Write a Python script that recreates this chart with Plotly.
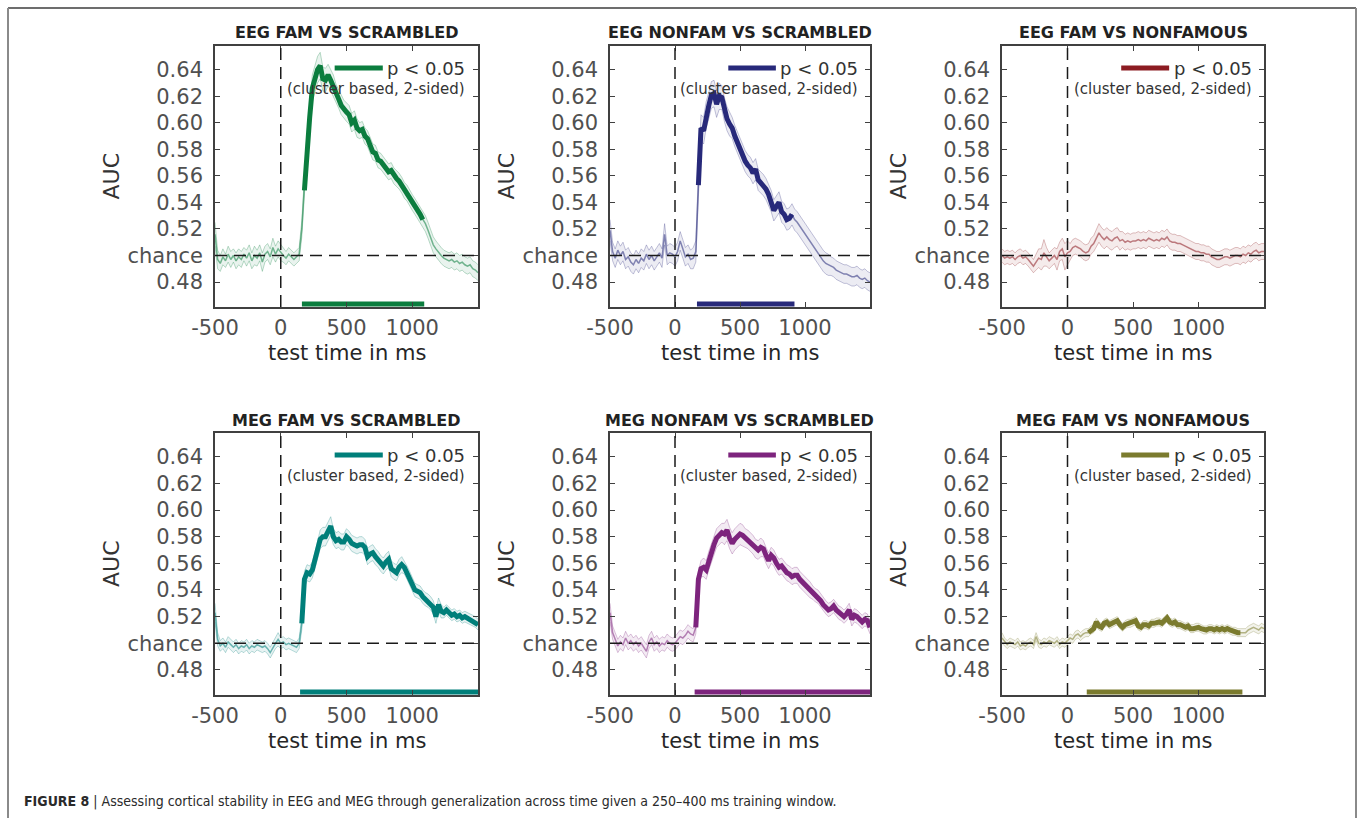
import plotly.graph_objects as go

W, H = 1358, 818

# ---------------------------------------------------------------- data
TIME_MS = list(range(-500, 1501, 20))

PANEL_TITLES = [
    "EEG FAM VS SCRAMBLED", "EEG NONFAM VS SCRAMBLED", "EEG FAM VS NONFAMOUS",
    "MEG FAM VS SCRAMBLED", "MEG NONFAM VS SCRAMBLED", "MEG FAM VS NONFAMOUS",
]

EEG_FAM_SCR = [
    0.516, 0.497, 0.494, 0.499, 0.496, 0.501, 0.497, 0.500, 0.496, 0.499,
    0.497, 0.501, 0.498, 0.502, 0.496, 0.500, 0.498, 0.502, 0.495, 0.501,
    0.503, 0.499, 0.506, 0.501, 0.505, 0.502, 0.500, 0.498, 0.501, 0.499,
    0.497, 0.499, 0.501, 0.520, 0.549, 0.585, 0.604, 0.626, 0.633, 0.640,
    0.643, 0.633, 0.632, 0.636, 0.632, 0.628, 0.622, 0.618, 0.613, 0.610,
    0.608, 0.606, 0.600, 0.602, 0.596, 0.594, 0.595, 0.590, 0.588, 0.583,
    0.578, 0.577, 0.572, 0.571, 0.568, 0.565, 0.563, 0.564, 0.560, 0.558,
    0.556, 0.553, 0.549, 0.547, 0.543, 0.540, 0.537, 0.534, 0.531, 0.527,
    0.524, 0.519, 0.514, 0.508, 0.505, 0.502, 0.500, 0.498, 0.497, 0.496,
    0.497, 0.495, 0.496, 0.494, 0.495, 0.493, 0.492, 0.493, 0.490, 0.489,
    0.487,
]
EEG_FAM_SCR_SEM = [
    0.009, 0.007, 0.006, 0.006, 0.005, 0.006, 0.006, 0.005, 0.006, 0.006,
    0.006, 0.005, 0.006, 0.006, 0.006, 0.007, 0.006, 0.006, 0.007, 0.006,
    0.006, 0.006, 0.007, 0.006, 0.006, 0.006, 0.005, 0.005, 0.005, 0.005,
    0.005, 0.005, 0.005, 0.006, 0.007, 0.008, 0.009, 0.010, 0.010, 0.010,
    0.010, 0.009, 0.009, 0.008, 0.008, 0.008, 0.007, 0.007, 0.007, 0.007,
    0.007, 0.007, 0.007, 0.007, 0.007, 0.006, 0.006, 0.006, 0.006, 0.006,
    0.006, 0.006, 0.006, 0.006, 0.006, 0.006, 0.006, 0.006, 0.006, 0.006,
    0.006, 0.006, 0.006, 0.006, 0.006, 0.006, 0.006, 0.006, 0.006, 0.006,
    0.006, 0.006, 0.006, 0.006, 0.006, 0.006, 0.006, 0.006, 0.006, 0.006,
    0.006, 0.006, 0.006, 0.006, 0.006, 0.006, 0.006, 0.006, 0.006, 0.006,
    0.006,
]

EEG_NONFAM_SCR = [
    0.519, 0.503, 0.498, 0.504, 0.500, 0.503, 0.497, 0.499, 0.495, 0.493,
    0.497, 0.494, 0.498, 0.496, 0.501, 0.497, 0.500, 0.496, 0.499, 0.502,
    0.498, 0.516, 0.500, 0.502, 0.501, 0.499, 0.503, 0.511, 0.505, 0.499,
    0.501, 0.497, 0.498, 0.503, 0.553, 0.596, 0.594, 0.606, 0.613, 0.621,
    0.622, 0.614, 0.620, 0.619, 0.610, 0.603, 0.599, 0.596, 0.590, 0.585,
    0.581, 0.575, 0.571, 0.568, 0.566, 0.562, 0.565, 0.557, 0.555, 0.553,
    0.550, 0.546, 0.541, 0.534, 0.537, 0.540, 0.533, 0.531, 0.527, 0.528,
    0.531, 0.527, 0.525, 0.522, 0.520, 0.517, 0.514, 0.511, 0.508, 0.504,
    0.502, 0.499, 0.496, 0.494, 0.493, 0.492, 0.491, 0.489, 0.488, 0.487,
    0.486, 0.486, 0.485, 0.484, 0.484, 0.485, 0.483, 0.482, 0.483, 0.481,
    0.480,
]
EEG_NONFAM_SCR_SEM = [
    0.008, 0.007, 0.007, 0.007, 0.007, 0.007, 0.007, 0.007, 0.007, 0.007,
    0.007, 0.007, 0.007, 0.007, 0.007, 0.007, 0.007, 0.007, 0.007, 0.007,
    0.007, 0.008, 0.007, 0.007, 0.007, 0.007, 0.007, 0.007, 0.007, 0.007,
    0.007, 0.007, 0.008, 0.008, 0.009, 0.010, 0.010, 0.010, 0.010, 0.010,
    0.010, 0.010, 0.010, 0.009, 0.009, 0.009, 0.009, 0.008, 0.008, 0.008,
    0.008, 0.008, 0.008, 0.008, 0.008, 0.008, 0.008, 0.008, 0.008, 0.008,
    0.008, 0.008, 0.008, 0.008, 0.008, 0.008, 0.008, 0.008, 0.008, 0.008,
    0.008, 0.008, 0.008, 0.008, 0.008, 0.008, 0.008, 0.008, 0.008, 0.008,
    0.008, 0.008, 0.008, 0.008, 0.008, 0.007, 0.007, 0.007, 0.007, 0.007,
    0.007, 0.007, 0.007, 0.007, 0.007, 0.007, 0.007, 0.007, 0.007, 0.007,
    0.007,
]

EEG_FAM_NONFAM = [
    0.500, 0.498, 0.499, 0.498, 0.499, 0.497, 0.499, 0.500, 0.498, 0.499,
    0.497, 0.494, 0.492, 0.495, 0.498, 0.497, 0.502, 0.499, 0.496, 0.498,
    0.500, 0.497, 0.503, 0.505, 0.499, 0.502, 0.503, 0.506, 0.507, 0.506,
    0.505, 0.503, 0.502, 0.503, 0.507, 0.509, 0.513, 0.517, 0.514, 0.512,
    0.514, 0.512, 0.511, 0.513, 0.514, 0.511, 0.512, 0.510, 0.511, 0.510,
    0.511, 0.511, 0.512, 0.511, 0.512, 0.511, 0.513, 0.512, 0.511, 0.512,
    0.511, 0.513, 0.512, 0.514, 0.511, 0.510, 0.510, 0.509, 0.509, 0.508,
    0.507, 0.506, 0.505, 0.504, 0.503, 0.503, 0.502, 0.502, 0.501, 0.501,
    0.499, 0.498, 0.497, 0.497, 0.498, 0.499, 0.499, 0.498, 0.499, 0.500,
    0.500, 0.499, 0.501, 0.500, 0.502, 0.501, 0.503, 0.504, 0.502, 0.503,
    0.503,
]
EEG_FAM_NONFAM_SEM = [
    0.005, 0.005, 0.005, 0.005, 0.005, 0.005, 0.005, 0.005, 0.005, 0.005,
    0.005, 0.005, 0.005, 0.006, 0.007, 0.008, 0.010, 0.007, 0.006, 0.006,
    0.006, 0.008, 0.007, 0.008, 0.010, 0.009, 0.006, 0.006, 0.006, 0.006,
    0.006, 0.006, 0.006, 0.006, 0.006, 0.006, 0.007, 0.007, 0.007, 0.007,
    0.007, 0.007, 0.007, 0.007, 0.007, 0.007, 0.006, 0.006, 0.006, 0.006,
    0.006, 0.006, 0.006, 0.006, 0.006, 0.006, 0.006, 0.006, 0.006, 0.006,
    0.006, 0.006, 0.006, 0.006, 0.006, 0.006, 0.006, 0.006, 0.006, 0.006,
    0.006, 0.006, 0.006, 0.006, 0.006, 0.006, 0.006, 0.006, 0.006, 0.006,
    0.006, 0.006, 0.006, 0.006, 0.006, 0.006, 0.006, 0.006, 0.006, 0.006,
    0.006, 0.006, 0.006, 0.006, 0.006, 0.006, 0.006, 0.006, 0.006, 0.006,
    0.006,
]

MEG_FAM_SCR = [
    0.523, 0.503, 0.498, 0.500, 0.497, 0.501, 0.499, 0.497, 0.499, 0.496,
    0.498, 0.497, 0.499, 0.496, 0.498, 0.497, 0.499, 0.498, 0.497, 0.498,
    0.496, 0.493, 0.497, 0.500, 0.503, 0.500, 0.501, 0.499, 0.500, 0.499,
    0.498, 0.497, 0.500, 0.515, 0.548, 0.553, 0.552, 0.555, 0.562, 0.570,
    0.578, 0.580, 0.580, 0.584, 0.588, 0.580, 0.577, 0.578, 0.576, 0.576,
    0.580, 0.578, 0.575, 0.574, 0.573, 0.574, 0.574, 0.572, 0.565, 0.567,
    0.568, 0.565, 0.563, 0.560, 0.558, 0.561, 0.563, 0.556, 0.554, 0.553,
    0.557, 0.559, 0.557, 0.553, 0.549, 0.545, 0.540, 0.539, 0.538, 0.535,
    0.533, 0.532, 0.530, 0.527, 0.520, 0.529, 0.524, 0.523, 0.525, 0.523,
    0.521, 0.522, 0.520, 0.521, 0.519, 0.520, 0.519, 0.518, 0.517, 0.516,
    0.514,
]
MEG_FAM_SCR_SEM = [
    0.007, 0.005, 0.004, 0.004, 0.004, 0.004, 0.004, 0.004, 0.004, 0.004,
    0.004, 0.004, 0.004, 0.004, 0.004, 0.004, 0.004, 0.004, 0.004, 0.004,
    0.004, 0.004, 0.004, 0.004, 0.005, 0.004, 0.004, 0.004, 0.004, 0.004,
    0.004, 0.004, 0.004, 0.005, 0.006, 0.006, 0.006, 0.006, 0.006, 0.007,
    0.007, 0.007, 0.007, 0.007, 0.007, 0.006, 0.006, 0.006, 0.006, 0.006,
    0.006, 0.006, 0.006, 0.006, 0.006, 0.006, 0.006, 0.006, 0.006, 0.006,
    0.006, 0.006, 0.006, 0.006, 0.006, 0.006, 0.006, 0.006, 0.006, 0.006,
    0.006, 0.006, 0.005, 0.005, 0.005, 0.005, 0.005, 0.005, 0.005, 0.005,
    0.005, 0.005, 0.005, 0.005, 0.005, 0.005, 0.005, 0.004, 0.004, 0.004,
    0.004, 0.004, 0.004, 0.004, 0.004, 0.004, 0.004, 0.004, 0.004, 0.004,
    0.004,
]

MEG_NONFAM_SCR = [
    0.523, 0.508, 0.503, 0.498, 0.501, 0.499, 0.504, 0.500, 0.502, 0.499,
    0.501, 0.498, 0.500, 0.497, 0.494, 0.501, 0.504, 0.499, 0.501, 0.498,
    0.500, 0.499, 0.502, 0.500, 0.499, 0.500, 0.503, 0.505, 0.504, 0.506,
    0.509, 0.507, 0.506, 0.512, 0.548, 0.556, 0.557, 0.555, 0.562, 0.568,
    0.574, 0.579, 0.581, 0.583, 0.582, 0.585, 0.579, 0.575, 0.578, 0.580,
    0.582, 0.581, 0.579, 0.578, 0.576, 0.574, 0.571, 0.570, 0.572, 0.571,
    0.566, 0.562, 0.566, 0.564, 0.560, 0.557, 0.558, 0.555, 0.553, 0.552,
    0.550, 0.551, 0.551, 0.548, 0.546, 0.544, 0.542, 0.540, 0.538, 0.536,
    0.535, 0.532, 0.529, 0.527, 0.525, 0.526, 0.528, 0.525, 0.523, 0.522,
    0.520, 0.522, 0.525, 0.518, 0.521, 0.520, 0.518, 0.516, 0.518, 0.517,
    0.512,
]
MEG_NONFAM_SCR_SEM = [
    0.007, 0.005, 0.005, 0.005, 0.005, 0.005, 0.005, 0.005, 0.005, 0.005,
    0.005, 0.005, 0.005, 0.005, 0.005, 0.005, 0.005, 0.005, 0.005, 0.005,
    0.005, 0.005, 0.005, 0.005, 0.005, 0.005, 0.005, 0.005, 0.005, 0.005,
    0.005, 0.005, 0.005, 0.005, 0.006, 0.006, 0.007, 0.007, 0.007, 0.007,
    0.007, 0.007, 0.007, 0.007, 0.008, 0.008, 0.008, 0.008, 0.008, 0.008,
    0.008, 0.008, 0.007, 0.007, 0.007, 0.007, 0.007, 0.007, 0.007, 0.006,
    0.006, 0.006, 0.006, 0.006, 0.006, 0.006, 0.006, 0.006, 0.006, 0.006,
    0.006, 0.006, 0.006, 0.006, 0.006, 0.006, 0.006, 0.006, 0.005, 0.005,
    0.005, 0.005, 0.005, 0.005, 0.005, 0.005, 0.005, 0.005, 0.005, 0.005,
    0.005, 0.005, 0.005, 0.005, 0.005, 0.005, 0.005, 0.005, 0.005, 0.005,
    0.005,
]

MEG_FAM_NONFAM = [
    0.504, 0.501, 0.499, 0.501, 0.500, 0.499, 0.501, 0.498, 0.499, 0.498,
    0.500, 0.501, 0.499, 0.505, 0.500, 0.499, 0.501, 0.500, 0.502, 0.501,
    0.500, 0.502, 0.499, 0.501, 0.500, 0.502, 0.504, 0.503, 0.506, 0.507,
    0.505, 0.507, 0.508, 0.508, 0.510, 0.511, 0.516, 0.513, 0.512, 0.515,
    0.516, 0.514, 0.515, 0.516, 0.517, 0.514, 0.512, 0.514, 0.515, 0.515,
    0.516, 0.517, 0.513, 0.512, 0.514, 0.514, 0.513, 0.515, 0.515, 0.516,
    0.516, 0.515, 0.517, 0.519, 0.516, 0.515, 0.516, 0.514, 0.514, 0.513,
    0.512, 0.513, 0.511, 0.511, 0.512, 0.512, 0.511, 0.510, 0.510, 0.511,
    0.511, 0.510, 0.511, 0.510, 0.511, 0.510, 0.511, 0.510, 0.509, 0.509,
    0.508, 0.508, 0.508, 0.508, 0.510, 0.511, 0.512, 0.511, 0.510, 0.512,
    0.511,
]
MEG_FAM_NONFAM_SEM = [
    0.004, 0.003, 0.003, 0.003, 0.003, 0.003, 0.003, 0.003, 0.003, 0.003,
    0.003, 0.003, 0.003, 0.003, 0.003, 0.003, 0.003, 0.003, 0.003, 0.003,
    0.003, 0.003, 0.003, 0.003, 0.003, 0.003, 0.003, 0.003, 0.003, 0.003,
    0.003, 0.003, 0.003, 0.003, 0.003, 0.003, 0.003, 0.003, 0.003, 0.003,
    0.003, 0.003, 0.003, 0.003, 0.003, 0.003, 0.003, 0.003, 0.003, 0.003,
    0.003, 0.003, 0.003, 0.003, 0.003, 0.003, 0.003, 0.003, 0.003, 0.003,
    0.003, 0.003, 0.003, 0.003, 0.003, 0.003, 0.003, 0.003, 0.003, 0.003,
    0.003, 0.003, 0.003, 0.003, 0.003, 0.003, 0.003, 0.003, 0.003, 0.003,
    0.003, 0.003, 0.003, 0.003, 0.003, 0.003, 0.003, 0.003, 0.003, 0.003,
    0.003, 0.003, 0.003, 0.003, 0.003, 0.003, 0.003, 0.003, 0.003, 0.003,
    0.003,
]

MEANS = [EEG_FAM_SCR, EEG_NONFAM_SCR, EEG_FAM_NONFAM,
         MEG_FAM_SCR, MEG_NONFAM_SCR, MEG_FAM_NONFAM]
SEMS = [EEG_FAM_SCR_SEM, EEG_NONFAM_SCR_SEM, EEG_FAM_NONFAM_SEM,
        MEG_FAM_SCR_SEM, MEG_NONFAM_SCR_SEM, MEG_FAM_NONFAM_SEM]

# significant cluster (start, end) in ms; None = no cluster
SIG_WINDOWS = [(161, 1091), (169, 919), None, (147, 1500), (151, 1500), (147, 1335)]

Y_TICKS = [0.48, 0.50, 0.52, 0.54, 0.56, 0.58, 0.60, 0.62, 0.64]
Y_TICK_TEXT = ["0.48", "chance", "0.52", "0.54", "0.56", "0.58", "0.60", "0.62", "0.64"]
X_TICKS = [-500, 0, 500, 1000]
X_TICK_TEXT = ["-500", "0", "500", "1000"]

CHANCE = 0.50
ONSET = 0
BAR_LEVEL = 0.4635

# ---------------------------------------------------------------- style
COLORS = ["#0b7d3e", "#27297a", "#8c1c22", "#007f7a", "#7d247d", "#7b7b2e"]
FONT = "DejaVu Sans, Liberation Sans, Arial, sans-serif"
AXIS_COLOR = "#404040"
TICK_TEXT_COLOR = "#505050"
TEXT_DARK = "#262626"

# plot boxes in pixels: (left, right, top, bottom)
BOXES = [
    (215, 478, 46, 307), (610, 870, 46, 307), (1002, 1264, 46, 307),
    (215, 478, 433, 695), (610, 870, 433, 695), (1002, 1264, 433, 695),
]
X_RANGE = [-500, 1500]
Y_RANGE = [0.4612, 0.6578]


def rgba(hex_color, alpha):
    h = hex_color.lstrip("#")
    r, g, b = int(h[0:2], 16), int(h[2:4], 16), int(h[4:6], 16)
    return f"rgba({r},{g},{b},{alpha})"


def px_x(px):
    return px / W


def px_y(py):
    return 1 - py / H


fig = go.Figure()
shapes = []
annotations = []

for i, (mean, sem, win, color, title, box) in enumerate(
        zip(MEANS, SEMS, SIG_WINDOWS, COLORS, PANEL_TITLES, BOXES)):
    n = i + 1
    xa = "x" if n == 1 else f"x{n}"
    ya = "y" if n == 1 else f"y{n}"
    left, right, top, bottom = box

    upper = [m + s for m, s in zip(mean, sem)]
    lower = [m - s for m, s in zip(mean, sem)]

    # shaded error band
    fig.add_trace(go.Scatter(
        x=TIME_MS, y=upper, xaxis=xa, yaxis=ya, mode="lines",
        line=dict(color=rgba(color, 0.28), width=1),
        showlegend=False, hoverinfo="skip"))
    fig.add_trace(go.Scatter(
        x=TIME_MS, y=lower, xaxis=xa, yaxis=ya, mode="lines",
        line=dict(color=rgba(color, 0.28), width=1),
        fill="tonexty", fillcolor=rgba(color, 0.09),
        showlegend=False, hoverinfo="skip"))
    # mean time course
    fig.add_trace(go.Scatter(
        x=TIME_MS, y=mean, xaxis=xa, yaxis=ya, mode="lines",
        line=dict(color=rgba(color, 0.55), width=1.5),
        showlegend=False, name=title))

    if win is not None:
        lo, hi = win
        sig_t = [t for t in TIME_MS if lo <= t <= hi]
        sig_m = [m for t, m in zip(TIME_MS, mean) if lo <= t <= hi]
        fig.add_trace(go.Scatter(
            x=sig_t, y=sig_m, xaxis=xa, yaxis=ya, mode="lines",
            line=dict(color=color, width=5),
            showlegend=False, hoverinfo="skip"))
        # cluster bar along the bottom
        fig.add_trace(go.Scatter(
            x=[lo, hi], y=[BAR_LEVEL, BAR_LEVEL], xaxis=xa, yaxis=ya,
            mode="lines", line=dict(color=color, width=5),
            showlegend=False, hoverinfo="skip"))

    axis_common = dict(
        showline=True, mirror="ticks", linecolor=AXIS_COLOR, linewidth=1.6,
        ticks="inside", ticklen=5, tickwidth=1, tickcolor=AXIS_COLOR,
        showgrid=False, zeroline=False, fixedrange=True, automargin=False,
        tickfont=dict(family=FONT, size=21, color=TICK_TEXT_COLOR),
    )
    fig.layout[f"xaxis{'' if n == 1 else n}"] = dict(
        axis_common, domain=[px_x(left), px_x(right)], anchor=ya,
        range=X_RANGE, tickmode="array", tickvals=X_TICKS, ticktext=X_TICK_TEXT,
        ticklabelstandoff=1)
    fig.layout[f"yaxis{'' if n == 1 else n}"] = dict(
        axis_common, domain=[px_y(bottom), px_y(top)], anchor=xa,
        range=Y_RANGE, tickmode="array", tickvals=Y_TICKS, ticktext=Y_TICK_TEXT,
        ticklabelstandoff=6)

    xdom = f"{xa} domain"
    ydom = f"{ya} domain"
    dash = dict(color="#1a1a1a", width=1.5, dash="12px,7px")
    # stimulus onset and chance level
    shapes.append(dict(type="line", xref=xa, yref=ydom, x0=ONSET, x1=ONSET,
                       y0=0, y1=1, line=dash, layer="above"))
    shapes.append(dict(type="line", xref=xdom, yref=ya, x0=0, x1=1,
                       y0=CHANCE, y1=CHANCE, line=dash, layer="above"))

    # in-panel key
    shapes.append(dict(type="line", xref=xdom, yref=ydom, x0=0.455, x1=0.638,
                       y0=0.916, y1=0.916, line=dict(color=color, width=5),
                       layer="above"))
    annotations.append(dict(xref=xdom, yref=ydom, x=0.648, y=0.914,
                            xanchor="left", yanchor="middle", showarrow=False,
                            text="p < 0.05",
                            font=dict(family=FONT, size=18, color="#333333")))
    annotations.append(dict(xref=xdom, yref=ydom, x=0.96, y=0.834,
                            xanchor="right", yanchor="middle", showarrow=False,
                            text="(cluster based, 2-sided)",
                            font=dict(family=FONT, size=15, color="#333333")))

    # panel title and axis titles
    cx = (left + right) / 2
    annotations.append(dict(xref="paper", yref="paper", x=px_x(cx),
                            y=px_y(top - 13), xanchor="center", yanchor="middle",
                            showarrow=False, text=f"<b>{title}</b>",
                            font=dict(family=FONT, size=16, color="#222222")))
    annotations.append(dict(xref="paper", yref="paper", x=px_x(cx),
                            y=px_y(bottom + 46), xanchor="center", yanchor="middle",
                            showarrow=False, text="test time in ms",
                            font=dict(family=FONT, size=21, color=TEXT_DARK)))
    annotations.append(dict(xref="paper", yref="paper", x=px_x(left - 104),
                            y=px_y((top + bottom) / 2), xanchor="center",
                            yanchor="middle", showarrow=False, text="AUC",
                            textangle=-90,
                            font=dict(family=FONT, size=22, color="#333333")))

# page frame
frame_dark = dict(color="#3c3c3c", width=1.5)
frame_side = dict(color="#8a8a8a", width=2)
shapes.append(dict(type="line", xref="paper", yref="paper",
                   x0=px_x(8), x1=px_x(1356), y0=px_y(8), y1=px_y(8), line=frame_dark))
shapes.append(dict(type="line", xref="paper", yref="paper",
                   x0=px_x(8), x1=px_x(8), y0=px_y(8), y1=0, line=frame_side))
shapes.append(dict(type="line", xref="paper", yref="paper",
                   x0=px_x(1356), x1=px_x(1356), y0=px_y(8), y1=0, line=frame_side))

annotations.append(dict(
    xref="paper", yref="paper", x=px_x(22), y=px_y(801),
    xanchor="left", yanchor="middle", showarrow=False,
    text="<b>FIGURE 8</b> | Assessing cortical stability in EEG and MEG through "
         "generalization across time given a 250–400 ms training window.",
    font=dict(family="Liberation Sans Narrow, DejaVu Sans Condensed, Liberation Sans, sans-serif",
              size=14, color="#2a2a2a")))

fig.update_layout(
    width=W, height=H,
    margin=dict(l=0, r=0, t=0, b=0, autoexpand=False),
    paper_bgcolor="white", plot_bgcolor="white",
    showlegend=False,
    shapes=shapes, annotations=annotations,
)

fig.write_html("out.html")
